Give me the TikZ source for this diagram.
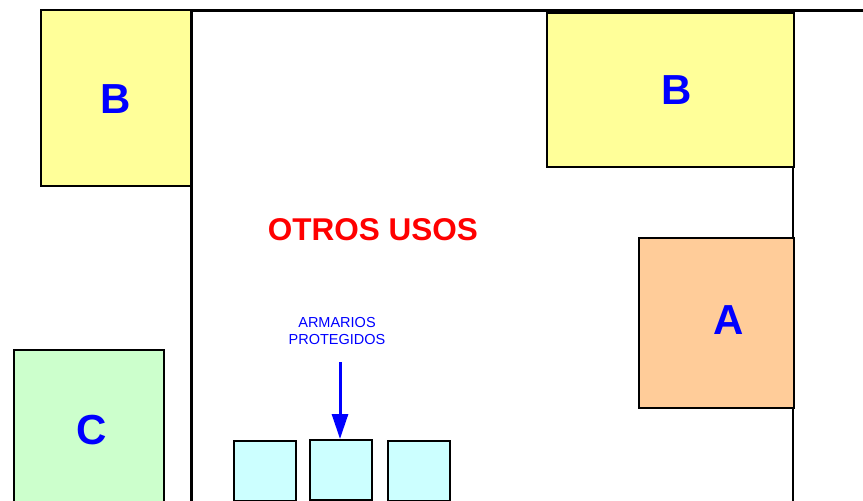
\documentclass[tikz,border=0pt]{standalone}
\usepackage{fontspec}
\setmainfont{Liberation Sans}
\usetikzlibrary{arrows.meta}
\definecolor{byel}{HTML}{FFFF99}
\definecolor{bora}{HTML}{FFCC99}
\definecolor{bgre}{HTML}{CCFFCC}
\definecolor{bcya}{HTML}{CCFFFF}
\definecolor{tblue}{HTML}{0000FF}
\definecolor{tred}{HTML}{FF0000}
\begin{document}
\begin{tikzpicture}[x=1pt,y=-1pt,
  zone/.style={draw=black,line width=2pt,inner sep=0pt,anchor=north west},
  zlabel/.style={text=tblue,font=\fontsize{42}{42}\selectfont\bfseries},
  locker/.style={draw=black,line width=2pt,fill=bcya,inner sep=0pt,anchor=north west,
    minimum width=62pt,minimum height=60pt},
  wall/.style={line width=3pt},
  arr/.style={draw=tblue,line width=3pt,-{Triangle[length=25pt,width=16pt]}}]
\clip (0,0) rectangle (863,501);
\fill[white] (0,0) rectangle (863,501);
% walls
\draw[wall] (191,501) -- (191,10) -- (863,10);
\draw[line width=2pt] (793,10) -- (793,501);
% zones
\node[zone,fill=byel,minimum width=150pt,minimum height=176pt] (bl) at (40,9) {};
\node[zlabel] (blt) at (116,99) {B};
\node[zone,fill=byel,minimum width=247pt,minimum height=154pt] (br) at (546,12) {};
\node[zlabel] (brt) at (677,90) {B};
\node[zone,fill=bora,minimum width=155pt,minimum height=170pt] (a) at (638,237) {};
\node[zlabel] (at) at (729,320) {A};
\node[zone,fill=bgre,minimum width=150pt,minimum height=170pt] (c) at (13,349) {};
\node[zlabel] (ct) at (92,430) {C};
% lockers
\node[locker] (k1) at (233,440) {};
\node[locker] (k2) at (309,439) {};
\node[locker] (k3) at (387,440) {};
% texts
\node[text=tred,font=\fontsize{31.5}{31.5}\selectfont\bfseries] (otros) at (373,230) {OTROS USOS};
\node[text=tblue,font=\fontsize{14.5}{17}\selectfont,align=center] (lbl) at (337,331) {ARMARIOS\\PROTEGIDOS};
\coordinate (as) at (340,362);
\draw[arr] (as) -- (k2.north -| as);
\end{tikzpicture}
\end{document}
